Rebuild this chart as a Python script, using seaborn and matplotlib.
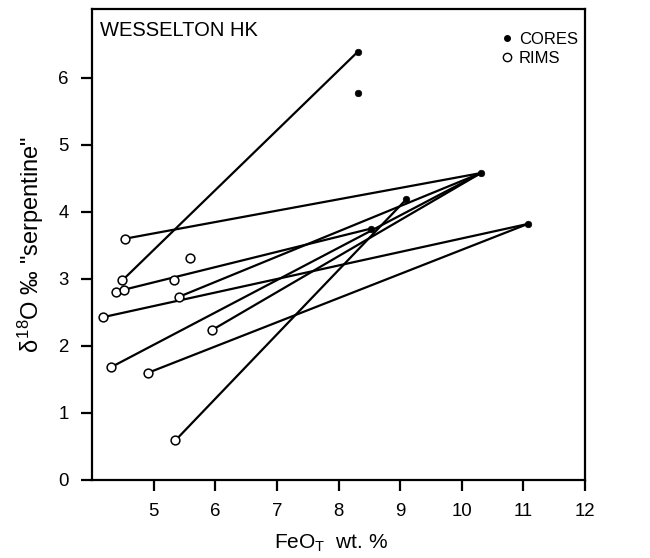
import numpy as np
import pandas as pd
import seaborn as sns
import matplotlib.pyplot as plt
from matplotlib.lines import Line2D

# olivine cores (filled) and rims (open), FeO_T wt.% vs d18O
core_x = [8.31, 8.31, 10.31, 9.10, 8.52, 11.07]
core_y = [6.39, 5.78, 4.58, 4.19, 3.75, 3.82]
rim_x = [4.53, 5.59, 4.49, 5.33, 4.38, 4.52, 5.40, 4.18, 5.95, 4.30, 4.91, 5.35]
rim_y = [3.60, 3.31, 2.98, 2.99, 2.80, 2.84, 2.73, 2.43, 2.24, 1.68, 1.60, 0.59]
# tie lines: (rim index, core index)
pair_rim = [0, 2, 5, 6, 7, 8, 9, 10, 11]
pair_core = [2, 0, 4, 2, 5, 2, 2, 5, 3]

x_ticks = [5, 6, 7, 8, 9, 10, 11, 12]
y_ticks = [0, 1, 2, 3, 4, 5, 6]

sns.set_theme(style="ticks")
plt.rcParams['font.family'] = ['Liberation Sans', 'DejaVu Sans']
plt.rcParams['mathtext.fontset'] = 'custom'
plt.rcParams['mathtext.rm'] = 'Liberation Sans'
plt.rcParams['mathtext.it'] = 'Liberation Sans'
plt.rcParams['text.color'] = 'black'
plt.rcParams['axes.labelcolor'] = 'black'

cores = pd.DataFrame({'x': core_x, 'y': core_y})
rims = pd.DataFrame({'x': rim_x, 'y': rim_y})
rows = []
for i, (r, c) in enumerate(zip(pair_rim, pair_core)):
    rows.append({'pair': i, 'x': rim_x[r], 'y': rim_y[r]})
    rows.append({'pair': i, 'x': core_x[c], 'y': core_y[c]})
ties = pd.DataFrame.from_records(rows)

fig, ax = plt.subplots(figsize=(6.5, 5.58), dpi=100)
fig.subplots_adjust(left=0.142, right=0.9, bottom=0.14, top=0.984)

sns.lineplot(data=ties, x='x', y='y', units='pair', estimator=None, sort=False,
             color='black', lw=1.6, ax=ax, zorder=2)
sns.scatterplot(data=cores, x='x', y='y', color='black', s=22, edgecolor='black',
                linewidth=0.5, ax=ax, zorder=3)
sns.scatterplot(data=rims, x='x', y='y', facecolor='white', s=40, edgecolor='black',
                linewidth=1.1, ax=ax, zorder=4)

ax.set_xlim(4, 12)
ax.set_ylim(0, 7.03)
ax.set_xticks(x_ticks)
ax.set_yticks(y_ticks)
ax.tick_params(axis='both', direction='out', length=8, width=1.6, labelsize=13.4,
               colors='black', pad=9)
for sp in ax.spines.values():
    sp.set_linewidth(1.6)
    sp.set_color('black')

ax.set_xlabel(r'FeO$_{\mathrm{T}}$  wt. %', fontsize=15, labelpad=9)
ax.xaxis.label.set_x(0.484)
ax.set_ylabel(r'$\delta^{18}$O ‰ "serpentine"', fontsize=17, labelpad=9)

ax.text(0.015, 0.975, 'WESSELTON HK', transform=ax.transAxes, fontsize=14.5,
        ha='left', va='top')

handles = [Line2D([], [], ls='none', marker='o', color='black', markersize=4),
           Line2D([], [], ls='none', marker='o', markerfacecolor='white',
                  markeredgecolor='black', markersize=6, markeredgewidth=1)]
ax.legend(handles, ['CORES', 'RIMS'], loc='upper right', frameon=False,
          fontsize=12, handlelength=0.8, handletextpad=0.3, labelspacing=0.25,
          borderaxespad=0.2, bbox_to_anchor=(1.006, 0.972))

fig.savefig('out.png', dpi=100)
